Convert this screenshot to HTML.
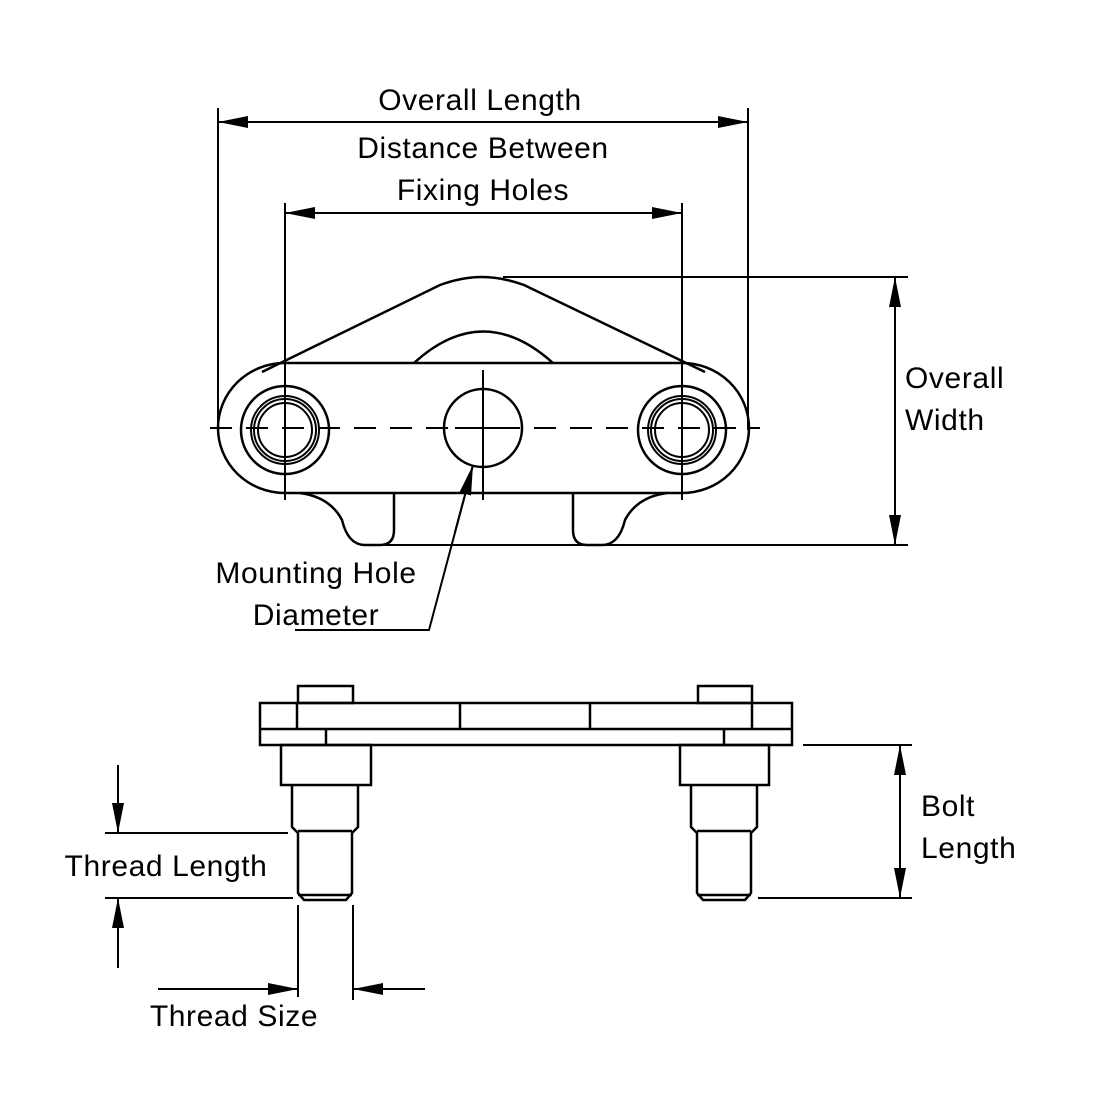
<!DOCTYPE html>
<html><head><style>html,body{margin:0;padding:0;background:#fff}svg{display:block}</style></head>
<body>
<svg width="1100" height="1100" viewBox="0 0 1100 1100" xmlns="http://www.w3.org/2000/svg">
<defs>
<marker id="a" viewBox="0 0 30 12" refX="30" refY="6" markerWidth="30" markerHeight="12" markerUnits="userSpaceOnUse" orient="auto"><path d="M0,0 L30,6 L0,12 Z" fill="#000"/></marker>
</defs>
<g fill="none" stroke="#000" stroke-width="2">
<line x1="218" y1="108" x2="218" y2="430"/>
<line x1="748" y1="108" x2="748" y2="430"/>
<line x1="250" y1="122" x2="218" y2="122" marker-end="url(#a)"/>
<line x1="700" y1="122" x2="748" y2="122" marker-end="url(#a)"/>
<line x1="218" y1="122" x2="748" y2="122"/>
<line x1="285" y1="203" x2="285" y2="500"/>
<line x1="682" y1="203" x2="682" y2="500"/>
<line x1="285" y1="213" x2="682" y2="213"/>
<line x1="330" y1="213" x2="285" y2="213" marker-end="url(#a)"/>
<line x1="640" y1="213" x2="682" y2="213" marker-end="url(#a)"/>
<line x1="503" y1="277" x2="908" y2="277"/>
<line x1="385" y1="545" x2="908" y2="545"/>
<line x1="895" y1="277" x2="895" y2="545"/>
<line x1="895" y1="320" x2="895" y2="277" marker-end="url(#a)"/>
<line x1="895" y1="500" x2="895" y2="545" marker-end="url(#a)"/>
<path d="M285,363 L682,363 A67,65 0 0 1 682,493 L285,493 A67,65 0 0 1 285,363 Z" stroke-width="2.5"/>
<path d="M262,372 L440,285 Q462,277 482,277 Q502,277 524,285 L705,372" stroke-width="2.5"/>
<path d="M414,363 Q483,300 553,363" stroke-width="2.5"/>
<path d="M300,493 Q330,497 342,520 Q348,545 365,545 L380,545 Q394,545 394,530 L394,493" stroke-width="2.5"/>
<path d="M667,493 Q637,497 625,520 Q619,545 602,545 L587,545 Q573,545 573,530 L573,493" stroke-width="2.5"/>
<circle cx="285" cy="430" r="44" stroke-width="2.5"/>
<circle cx="285" cy="430" r="34"/><circle cx="285" cy="430" r="31"/><circle cx="285" cy="430" r="27"/>
<circle cx="682" cy="430" r="44" stroke-width="2.5"/>
<circle cx="682" cy="430" r="34"/><circle cx="682" cy="430" r="31"/><circle cx="682" cy="430" r="27"/>
<circle cx="483" cy="428" r="39" stroke-width="2.5"/>
<line x1="210" y1="428" x2="760" y2="428" stroke-dasharray="22,14"/>
<line x1="483" y1="370" x2="483" y2="500"/>
<line x1="455" y1="428" x2="511" y2="428"/>
<polyline points="295,630 429,630 473,465"/>
<line x1="455" y1="532" x2="473" y2="465" marker-end="url(#a)"/>
<g stroke-width="2.5">
<rect x="298" y="686" width="55" height="17"/>
<rect x="698" y="686" width="54" height="17"/>
<rect x="260" y="703" width="532" height="42"/>
<line x1="260" y1="729" x2="792" y2="729"/>
<line x1="297" y1="703" x2="297" y2="729"/><line x1="460" y1="703" x2="460" y2="729"/>
<line x1="590" y1="703" x2="590" y2="729"/><line x1="752" y1="703" x2="752" y2="729"/>
<line x1="326" y1="729" x2="326" y2="745"/><line x1="724" y1="729" x2="724" y2="745"/>
<rect x="281" y="745" width="90" height="40"/>
<rect x="680" y="745" width="89" height="40"/>
<path d="M292,785 L292,827 L298,833 L298,893 L304,900 L346,900 L352,893 L352,833 L358,827 L358,785"/>
<line x1="298" y1="831" x2="352" y2="831"/><line x1="298" y1="895" x2="352" y2="895"/>
<path d="M691,785 L691,827 L697,833 L697,893 L703,900 L745,900 L751,893 L751,833 L757,827 L757,785"/>
<line x1="697" y1="831" x2="751" y2="831"/><line x1="697" y1="895" x2="751" y2="895"/>
</g>
<line x1="105" y1="833" x2="288" y2="833"/>
<line x1="105" y1="898" x2="293" y2="898"/>
<line x1="118" y1="765" x2="118" y2="833" marker-end="url(#a)"/>
<line x1="118" y1="968" x2="118" y2="898" marker-end="url(#a)"/>
<line x1="298" y1="905" x2="298" y2="997"/>
<line x1="353" y1="905" x2="353" y2="1000"/>
<line x1="158" y1="989" x2="298" y2="989" marker-end="url(#a)"/>
<line x1="425" y1="989" x2="353" y2="989" marker-end="url(#a)"/>
<line x1="803" y1="745" x2="912" y2="745"/>
<line x1="758" y1="898" x2="912" y2="898"/>
<line x1="900" y1="745" x2="900" y2="898"/>
<line x1="900" y1="790" x2="900" y2="745" marker-end="url(#a)"/>
<line x1="900" y1="850" x2="900" y2="898" marker-end="url(#a)"/>
</g>
<g font-family="Liberation Sans, sans-serif" font-size="30" fill="#000" letter-spacing="0.6">
<text x="480" y="110" text-anchor="middle">Overall Length</text>
<text x="483" y="158" text-anchor="middle">Distance Between</text>
<text x="483" y="200" text-anchor="middle">Fixing Holes</text>
<text x="905" y="388">Overall</text>
<text x="905" y="430">Width</text>
<text x="316" y="583" text-anchor="middle">Mounting Hole</text>
<text x="316" y="625" text-anchor="middle">Diameter</text>
<text x="166" y="876" text-anchor="middle">Thread Length</text>
<text x="234" y="1026" text-anchor="middle">Thread Size</text>
<text x="921" y="816">Bolt</text>
<text x="921" y="858">Length</text>
</g>
</svg>
</body></html>
